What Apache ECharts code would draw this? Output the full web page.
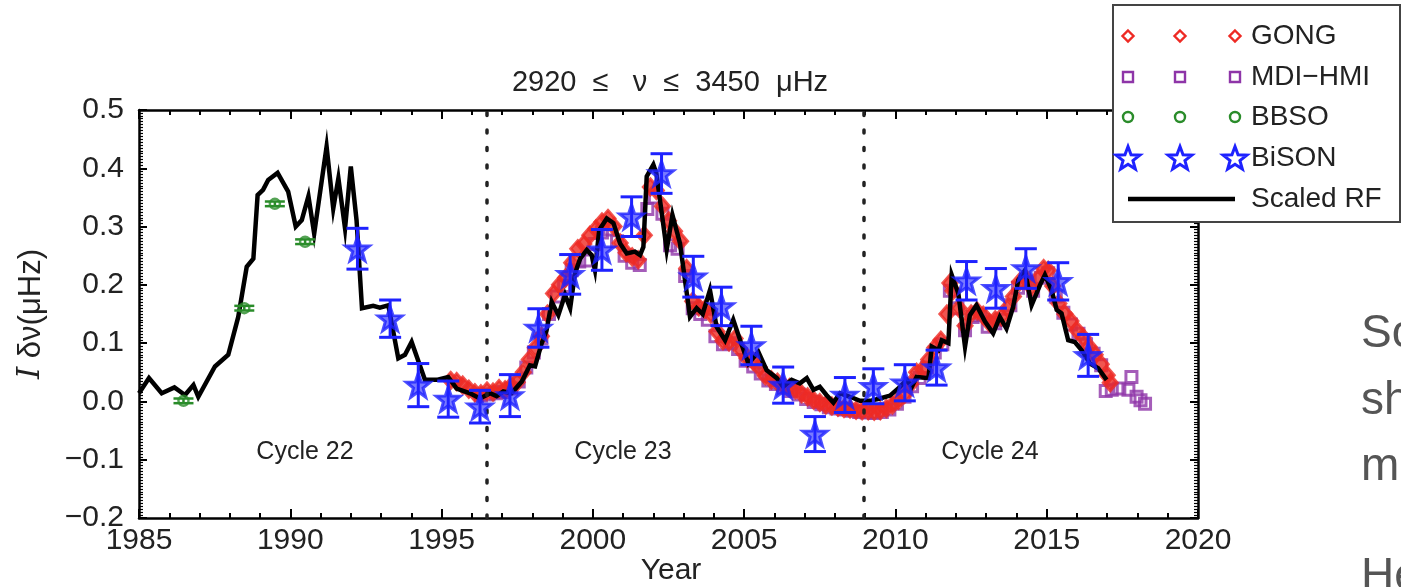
<!DOCTYPE html>
<html>
<head>
<meta charset="utf-8">
<script src="https://cdn.jsdelivr.net/npm/echarts@6/dist/echarts.min.js"></script>
<style>
html,body{margin:0;padding:0;background:#fff;}
#c{width:1401px;height:587px;}
</style>
</head>
<body>
<div id="c"></div>
<script>
// ---------------- DATA ----------------
const xTicks = [1985, 1990, 1995, 2000, 2005, 2010, 2015, 2020];
const yTicks = [-0.2, -0.1, 0.0, 0.1, 0.2, 0.3, 0.4, 0.5];
const cycleBoundaries = [1996.5, 2008.95];
const cycleNames = ['Cycle 22', 'Cycle 23', 'Cycle 24'];

// Scaled RF (black line) [year, value]
const scaledRF = [
 [1985.0,0.014],[1985.33,0.040],[1985.75,0.014],[1986.17,0.024],[1986.52,0.011],[1986.8,0.028],[1986.96,0.008],
 [1987.51,0.060],[1987.95,0.080],[1988.28,0.145],[1988.56,0.231],[1988.78,0.245],[1988.92,0.354],[1989.1,0.363],
 [1989.27,0.380],[1989.58,0.392],[1989.93,0.360],[1990.18,0.300],[1990.38,0.311],[1990.6,0.352],[1990.79,0.288],
 [1991.2,0.437],[1991.42,0.331],[1991.59,0.383],[1991.81,0.297],[1992.0,0.403],[1992.19,0.311],[1992.37,0.160],
 [1992.74,0.164],[1992.96,0.161],[1993.24,0.165],[1993.57,0.074],[1993.79,0.080],[1994.01,0.102],[1994.45,0.037],
 [1994.84,0.037],[1995.22,0.042],[1995.5,0.022],[1995.94,0.014],[1996.27,0.005],[1996.6,0.014],[1996.82,0.009],
 [1997.04,0.017],[1997.31,0.014],[1997.65,0.034],[1997.92,0.062],[1998.09,0.060],[1998.31,0.100],[1998.47,0.122],
 [1998.64,0.171],[1998.86,0.148],[1999.08,0.183],[1999.25,0.160],[1999.41,0.220],[1999.58,0.245],[1999.8,0.260],
 [1999.96,0.251],[2000.07,0.225],[2000.21,0.294],[2000.46,0.314],[2000.68,0.306],[2000.9,0.271],[2001.12,0.254],
 [2001.39,0.257],[2001.56,0.251],[2001.67,0.265],[2001.78,0.386],[2002.0,0.406],[2002.1,0.391],[2002.44,0.260],
 [2002.63,0.320],[2002.88,0.271],[2003.21,0.145],[2003.43,0.160],[2003.63,0.150],[2003.87,0.191],[2004.09,0.128],
 [2004.37,0.105],[2004.64,0.140],[2004.92,0.097],[2005.14,0.065],[2005.47,0.085],[2005.74,0.054],[2006.08,0.040],
 [2006.29,0.025],[2006.57,0.037],[2006.84,0.031],[2007.07,0.040],[2007.29,0.020],[2007.5,0.025],[2007.72,0.011],
 [2007.95,-0.002],[2008.17,0.014],[2008.5,0.008],[2008.83,0.001],[2009.16,0.001],[2009.49,0.005],[2009.82,0.010],
 [2010.15,0.025],[2010.37,0.037],[2010.54,0.025],[2010.7,0.042],[2011.09,0.040],[2011.2,0.094],[2011.42,0.088],
 [2011.53,0.105],[2011.75,0.100],[2011.86,0.217],[2012.08,0.185],[2012.3,0.094],[2012.46,0.148],[2012.68,0.165],
 [2012.96,0.137],[2013.23,0.117],[2013.45,0.145],[2013.67,0.125],[2013.89,0.162],[2014.06,0.208],[2014.28,0.225],
 [2014.5,0.165],[2014.78,0.200],[2014.94,0.217],[2015.16,0.191],[2015.33,0.157],[2015.49,0.151],[2015.71,0.105],
 [2015.93,0.102],[2016.15,0.088],[2016.43,0.065],[2016.7,0.057],[2016.98,0.037]
];

// GONG (red diamonds) [year, value]
const gong = [
 [1995.3,0.036],[1995.5,0.034],[1995.7,0.028],[1995.9,0.021],[1996.1,0.015],[1996.3,0.013],[1996.5,0.018],
 [1996.7,0.016],[1996.9,0.022],[1997.1,0.020],[1997.3,0.027],[1997.5,0.033],[1997.7,0.050],[1997.9,0.072],
 [1998.1,0.092],[1998.3,0.112],[1998.5,0.150],[1998.7,0.185],[1998.9,0.200],[1999.1,0.212],[1999.3,0.238],
 [1999.5,0.262],[1999.7,0.270],[1999.9,0.285],[2000.1,0.296],[2000.3,0.308],[2000.5,0.314],[2000.7,0.300],
 [2000.9,0.272],[2001.1,0.255],[2001.3,0.248],[2001.5,0.243],[2001.7,0.285],[2001.9,0.368],[2002.1,0.362],
 [2002.3,0.335],[2002.5,0.310],[2002.7,0.292],[2002.9,0.275],[2003.1,0.228],[2003.3,0.172],[2003.5,0.162],
 [2003.7,0.158],[2003.9,0.150],[2004.1,0.120],[2004.3,0.104],[2004.5,0.102],[2004.7,0.108],[2004.9,0.088],
 [2005.1,0.074],[2005.3,0.069],[2005.5,0.058],[2005.7,0.044],[2005.9,0.037],[2006.1,0.033],[2006.3,0.027],
 [2006.5,0.024],[2006.7,0.020],[2006.9,0.013],[2007.1,0.008],[2007.3,0.002],[2007.5,-0.002],[2007.7,-0.006],
 [2007.9,-0.008],[2008.1,-0.010],[2008.3,-0.012],[2008.5,-0.013],[2008.7,-0.015],[2008.9,-0.016],[2009.1,-0.016],
 [2009.3,-0.017],[2009.5,-0.016],[2009.7,-0.012],[2009.9,-0.006],[2010.1,0.002],[2010.3,0.012],[2010.5,0.030],
 [2010.7,0.050],[2010.9,0.055],[2011.1,0.072],[2011.3,0.092],[2011.5,0.105],[2011.7,0.150],[2011.8,0.203],
 [2011.9,0.190],[2012.1,0.160],[2012.3,0.130],[2012.5,0.150],[2012.7,0.155],[2012.9,0.148],[2013.1,0.135],
 [2013.3,0.140],[2013.5,0.145],[2013.7,0.160],[2013.9,0.180],[2014.1,0.205],[2014.3,0.212],[2014.5,0.196],
 [2014.7,0.210],[2014.9,0.228],[2015.05,0.225],[2015.2,0.198],[2015.4,0.168],[2015.6,0.150],[2015.8,0.138],
 [2016.0,0.122],[2016.2,0.110],[2016.4,0.094],[2016.6,0.080],[2016.8,0.064],[2017.0,0.045],[2017.1,0.032]
];

// MDI-HMI (purple squares) [year, value]
const mdiHmi = [
 [1996.3,0.010],[1996.55,0.012],[1996.8,0.014],[1997.05,0.016],[1997.3,0.022],[1997.55,0.034],[1997.8,0.058],
 [1998.05,0.084],[1998.3,0.108],[1998.55,0.150],[1998.8,0.180],[1999.05,0.198],[1999.3,0.225],[1999.55,0.240],
 [1999.8,0.242],[2000.05,0.270],[2000.3,0.290],[2000.55,0.295],[2000.8,0.275],[2001.05,0.250],[2001.3,0.238],
 [2001.55,0.234],[2001.8,0.330],[2002.05,0.350],[2002.3,0.322],[2002.55,0.268],[2002.8,0.262],[2003.05,0.215],
 [2003.3,0.160],[2003.55,0.150],[2003.8,0.140],[2004.05,0.112],[2004.3,0.098],[2004.55,0.100],[2004.8,0.090],
 [2005.05,0.070],[2005.3,0.060],[2005.55,0.048],[2005.8,0.036],[2006.05,0.030],[2006.3,0.024],[2006.55,0.018],
 [2006.8,0.012],[2007.05,0.004],[2007.3,-0.001],[2007.55,-0.005],[2007.8,-0.010],[2008.05,-0.012],[2008.3,-0.014],
 [2008.55,-0.016],[2008.8,-0.018],[2009.05,-0.019],[2009.3,-0.020],[2009.55,-0.018],[2009.8,-0.014],[2010.05,-0.004],
 [2010.3,0.008],[2010.55,0.026],[2010.8,0.040],[2011.05,0.058],[2011.3,0.084],[2011.55,0.098],[2011.8,0.190],
 [2012.05,0.160],[2012.3,0.122],[2012.55,0.145],[2012.8,0.148],[2013.05,0.128],[2013.3,0.134],[2013.55,0.140],
 [2013.8,0.165],[2014.05,0.195],[2014.3,0.205],[2014.55,0.190],[2014.8,0.212],[2015.05,0.220],[2015.3,0.180],
 [2015.55,0.152],[2015.8,0.132],[2016.05,0.116],[2016.3,0.098],[2016.55,0.082],[2016.8,0.062],[2016.95,0.018],
 [2017.15,0.020],[2017.4,0.022],[2017.7,0.020],[2017.8,0.042],[2017.97,0.008],[2018.1,0.002],[2018.25,-0.004]
];

// BBSO (green circles) [year, value, error]
const bbso = [
 [1986.47,0.001,0.004],[1988.48,0.160,0.004],[1989.49,0.339,0.004],[1990.49,0.274,0.004]
];

// BiSON (blue stars) [year, value, error]
const bison = [
 [1992.22,0.262,0.035],[1993.3,0.142,0.032],[1994.23,0.028,0.037],[1995.22,0.004,0.031],[1996.27,-0.009,0.028],
 [1997.26,0.010,0.036],[1998.2,0.126,0.033],[1999.25,0.218,0.034],[2000.3,0.260,0.035],[2001.28,0.317,0.034],
 [2002.27,0.391,0.034],[2003.32,0.214,0.035],[2004.25,0.163,0.033],[2005.24,0.096,0.033],[2006.29,0.028,0.031],
 [2007.34,-0.056,0.030],[2008.33,0.011,0.030],[2009.27,0.026,0.030],[2010.31,0.032,0.031],[2011.36,0.058,0.030],
 [2012.35,0.207,0.033],[2013.32,0.194,0.034],[2014.31,0.228,0.034],[2015.38,0.206,0.032],[2016.37,0.079,0.036]
];

// ---------------- STYLE ----------------
const FONT = "'Liberation Sans', Arial, Helvetica, sans-serif";
const RED = '#ee2a24', PURPLE = '#8e35a8', GREEN = '#2a8c2a', BLUE = '#1e22ff';
const STAR = 'path://M50,0 L61.76,33.82 L97.55,34.55 L69.02,56.18 L79.39,90.45 L50,70 L20.61,90.45 L30.98,56.18 L2.45,34.55 L38.24,33.82 Z';

function errBarSeries(data, color, capHalf, lw, z) {
  return {
    type: 'custom', z: z, silent: true,
    data: data,
    renderItem: function (params, api) {
      const x = api.value(0), y = api.value(1), e = api.value(2);
      const top = api.coord([x, y + e]);
      const bot = api.coord([x, y - e]);
      const st = { stroke: color, lineWidth: lw };
      return { type: 'group', children: [
        { type: 'line', shape: { x1: top[0], y1: top[1], x2: bot[0], y2: bot[1] }, style: st },
        { type: 'line', shape: { x1: top[0]-capHalf, y1: top[1], x2: top[0]+capHalf, y2: top[1] }, style: st },
        { type: 'line', shape: { x1: bot[0]-capHalf, y1: bot[1], x2: bot[0]+capHalf, y2: bot[1] }, style: st }
      ]};
    }
  };
}

const chart = echarts.init(document.getElementById('c'), null, { renderer: 'canvas' });

const axisLineStyle = { color: '#000', width: 2.5 };
const fmtY = v => (v < 0 ? '\u2212' : '') + Math.abs(v).toFixed(1);

// legend graphics
function starPoints(cx, cy, R, r) {
  const pts = [];
  for (let i = 0; i < 10; i++) {
    const a = -Math.PI / 2 + i * Math.PI / 5;
    const rad = i % 2 === 0 ? R : r;
    pts.push([cx + rad * Math.cos(a), cy + rad * Math.sin(a)]);
  }
  return pts;
}
const legX = [1128, 1180, 1235];
const legRows = [36, 77, 117, 158, 199];
const legNames = ['GONG', 'MDI\u2212HMI', 'BBSO', 'BiSON', 'Scaled RF'];
const legendEls = [
  { type: 'rect', shape: { x: 1113, y: 5, width: 287, height: 217 }, style: { fill: '#fff', stroke: '#444', lineWidth: 2 }, z: 100 }
];
legX.forEach(x => {
  legendEls.push({ type: 'polygon', shape: { points: [[x, legRows[0]-5.5],[x+5.5, legRows[0]],[x, legRows[0]+5.5],[x-5.5, legRows[0]]] }, style: { fill: 'none', stroke: RED, lineWidth: 2.4 }, z: 101 });
  legendEls.push({ type: 'rect', shape: { x: x-5, y: legRows[1]-5, width: 10, height: 10 }, style: { fill: 'none', stroke: PURPLE, lineWidth: 2.4 }, z: 101 });
  legendEls.push({ type: 'circle', shape: { cx: x, cy: legRows[2], r: 5 }, style: { fill: 'none', stroke: GREEN, lineWidth: 2.4 }, z: 101 });
  legendEls.push({ type: 'polygon', shape: { points: starPoints(x, legRows[3]+1, 12.5, 5.2) }, style: { fill: 'none', stroke: BLUE, lineWidth: 3 }, z: 101 });
});
legendEls.push({ type: 'line', shape: { x1: 1128, y1: legRows[4], x2: 1235, y2: legRows[4] }, style: { stroke: '#000', lineWidth: 4.5 }, z: 101 });
legNames.forEach((n, i) => {
  legendEls.push({ type: 'text', x: 1251, y: legRows[i], style: { text: n, font: '28px ' + FONT, fill: '#222', verticalAlign: 'middle', align: 'left' }, z: 101 });
});

const cyclePos = [[305, 452], [623, 452], [990, 452]];
const sideText = [['So', 311], ['sh', 378], ['m', 444], ['He', 554]];

const graphics = legendEls.concat(
  cycleNames.map((t, i) => ({ type: 'text', x: cyclePos[i][0], y: cyclePos[i][1], style: { text: t, font: '25px ' + FONT, fill: '#222', align: 'center', verticalAlign: 'middle' } })),
  [
    { type: 'text', x: 671, y: 571, style: { text: 'Year', font: '30px ' + FONT, fill: '#222', align: 'center', verticalAlign: 'middle' } },
    { type: 'text', x: 31, y: 314, rotation: Math.PI / 2, style: {
        text: '{i|I} δν(μHz)', font: '31px ' + FONT, fill: '#222', align: 'center', verticalAlign: 'middle',
        rich: { i: { fontStyle: 'italic', fontFamily: 'DejaVu Serif', fontSize: 31, fill: '#222' } } } },
    { type: 'text', x: 670, y: 83, style: { text: '2920  \u2264   \u03bd  \u2264  3450  \u03bcHz', font: '29px ' + FONT, fill: '#222', align: 'center', verticalAlign: 'middle' } }
  ],
  sideText.map(s => ({ type: 'text', x: 1361, y: s[1], style: { text: s[0], font: '46px ' + FONT, fill: '#555', align: 'left', verticalAlign: 'top' } }))
);

const xAxisBase = {
  type: 'value', min: xTicks[0], max: xTicks[xTicks.length-1], interval: 5,
  axisLine: { onZero: false, lineStyle: axisLineStyle },
  axisTick: { inside: true, length: 9, lineStyle: { width: 2, color: '#000' } },
  minorTick: { show: true, splitNumber: 5, length: 5, lineStyle: { width: 2, color: '#000' } },
  splitLine: { show: false }
};
const yAxisBase = {
  type: 'value', min: yTicks[0], max: yTicks[yTicks.length-1], interval: 0.1,
  axisLine: { onZero: false, lineStyle: axisLineStyle },
  axisTick: { inside: true, length: 8, lineStyle: { width: 2, color: '#000' } },
  minorTick: { show: true, splitNumber: 20, length: 4, lineStyle: { width: 1.2, color: '#000' } },
  splitLine: { show: false }
};

const option = {
  animation: false,
  backgroundColor: '#fff',
  grid: { left: 139, right: 203, top: 110, bottom: 69, containLabel: false },
  xAxis: [
    Object.assign({}, xAxisBase, { position: 'bottom',
      axisLabel: { margin: 8, fontFamily: FONT, fontSize: 30, color: '#222', formatter: v => String(v) } }),
    Object.assign({}, xAxisBase, { position: 'top', axisLabel: { show: false } })
  ],
  yAxis: [
    Object.assign({}, yAxisBase, { position: 'left',
      axisLabel: { margin: 15, fontFamily: FONT, fontSize: 30, color: '#222', formatter: fmtY } }),
    Object.assign({}, yAxisBase, { position: 'right', axisLabel: { show: false } })
  ],
  series: [
    { name: 'MDI-HMI', type: 'scatter', z: 2, data: mdiHmi, symbol: 'rect', symbolSize: 11,
      itemStyle: { color: 'rgba(255,255,255,0)', borderColor: PURPLE, borderWidth: 3 } },
    { name: 'GONG', type: 'scatter', z: 3, data: gong, symbol: 'diamond', symbolSize: [14, 16],
      itemStyle: { color: RED, borderColor: RED, borderWidth: 3 } },
    { name: 'Scaled RF', type: 'line', z: 4, data: scaledRF, showSymbol: false, symbol: 'none',
      lineStyle: { color: '#000', width: 4.5, join: 'miter' },
      markLine: { silent: true, symbol: 'none', label: { show: false },
        lineStyle: { color: '#222', type: [3, 14.5], width: 3.5, cap: 'round' },
        data: cycleBoundaries.map(v => ({ xAxis: v })) } },
    errBarSeries(bbso, GREEN, 10, 2.5, 5),
    { name: 'BBSO', type: 'scatter', z: 6, data: bbso, symbol: 'circle', symbolSize: 10,
      itemStyle: { color: 'rgba(255,255,255,0)', borderColor: GREEN, borderWidth: 2.5 } },
    errBarSeries(bison, BLUE, 11, 3, 7),
    { name: 'BiSON', type: 'scatter', z: 8, data: bison, symbol: STAR, symbolSize: 24,
      itemStyle: { color: 'rgba(30,34,255,0.75)', borderColor: BLUE, borderWidth: 3 } }
  ],
  graphic: graphics
};
chart.setOption(option);
</script>
</body>
</html>
